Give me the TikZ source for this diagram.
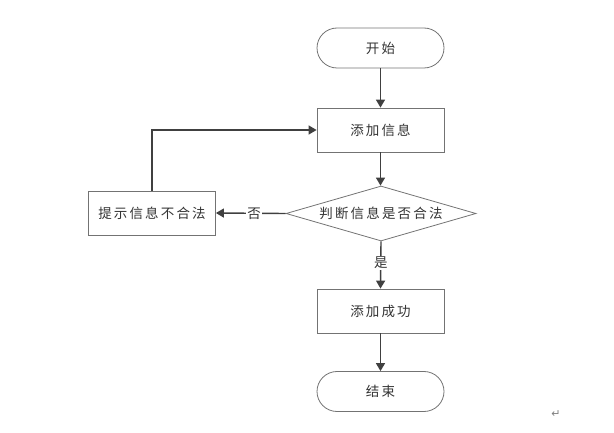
\documentclass[tikz,border=0pt]{standalone}
\usepackage{fontspec}
\newfontfamily\cjk[LetterSpace=16]{Noto Sans CJK SC}
\newfontfamily\dejavu{DejaVu Sans}
\usetikzlibrary{shapes.geometric,arrows.meta}
\tikzset{
  every node/.style={font=\cjk\fontsize{13.5pt}{15pt}\selectfont, text=black!80},
  procbox/.style={draw=black!55, line width=0.8pt, minimum width=127pt, minimum height=44pt, inner sep=0pt},
  termbox/.style={draw=black!55, line width=0.8pt, rounded corners=20pt, minimum width=127pt, minimum height=40pt, inner sep=0pt},
  decbox/.style={draw=black!55, line width=0.8pt, diamond, aspect=3.45, minimum width=190pt, minimum height=55pt, inner sep=0pt},
  flow/.style={draw=black!75, line width=1.4pt, -{Triangle[length=8pt,width=9pt]}},
  lbl/.style={fill=white, inner sep=1pt}
}
\begin{document}
\begin{tikzpicture}[x=1pt,y=1pt]
\useasboundingbox (0,0) rectangle (614,-433);
\node[termbox] (start) at (380.5,-48) {开始};
\node[procbox] (add) at (380.5,-130) {添加信息};
\node[decbox] (check) at (381,-213.5) {判断信息是否合法};
\node[procbox] (warn) at (152,-213) {提示信息不合法};
\node[procbox] (ok) at (380.5,-311) {添加成功};
\node[termbox] (end) at (380.5,-391.5) {结束};
\draw[flow] (start) -- (add);
\draw[flow] (add.south) -- (add.south |- check.north);
\draw[flow] (check.west) -- node[lbl, pos=0.45] {否} (warn.east);
\draw[flow] (warn.north) |- (add.west);
\draw[flow] (check.south) -- node[lbl, pos=0.45] {是} (ok.north);
\draw[flow] (ok) -- (end);
\node[font=\dejavu\fontsize{11pt}{12pt}\selectfont, text=black!50] (ret) at (556,-414) {↵};
\end{tikzpicture}
\end{document}
